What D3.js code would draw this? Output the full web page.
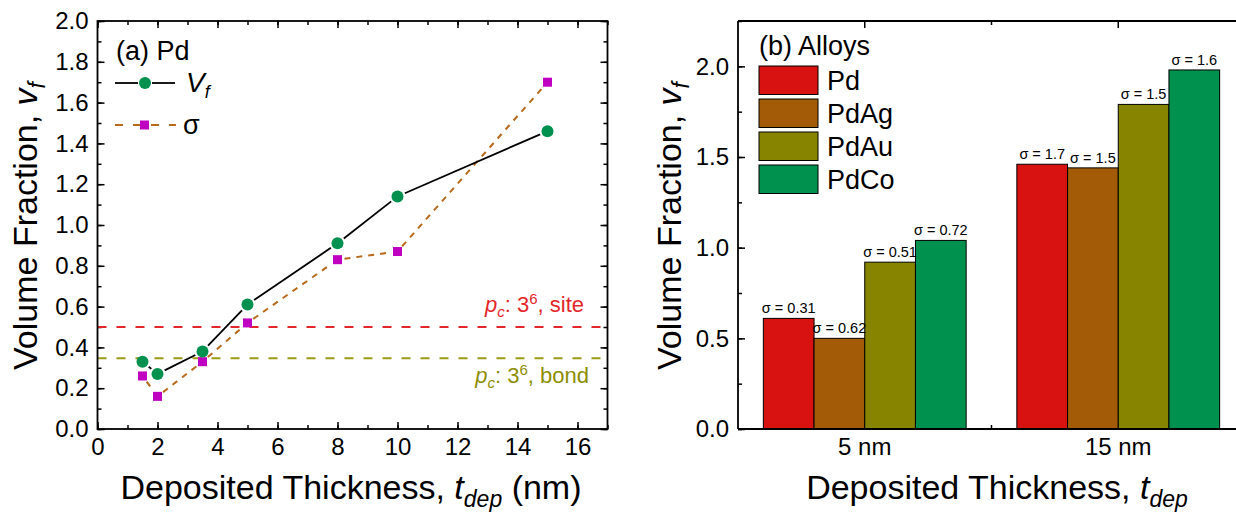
<!DOCTYPE html>
<html>
<head>
<meta charset="utf-8">
<script src="https://cdn.jsdelivr.net/npm/d3@7/dist/d3.min.js"></script>
<style>
  body { margin: 0; background: #fff; }
  svg { display: block; font-family: "Liberation Sans", Arial, sans-serif; }
</style>
</head>
<body>
<div class="chart"></div>
<script>
// ---- data ----
var thickness = [1.5, 2, 3.5, 5, 8, 10, 15];
var vfPd = [0.33, 0.27, 0.38, 0.61, 0.91, 1.14, 1.46];
var sigmaPd = [0.26, 0.16, 0.33, 0.52, 0.83, 0.87, 1.70];
var pcSite = 0.5;
var pcBond = 0.347;
var xTicksA = [0, 2, 4, 6, 8, 10, 12, 14, 16];
var yTicksA = [0, 0.2, 0.4, 0.6, 0.8, 1.0, 1.2, 1.4, 1.6, 1.8, 2.0];

var groups = ['5 nm', '15 nm'];
var alloys = ['Pd', 'PdAg', 'PdAu', 'PdCo'];
var vf5nm = [0.61, 0.50, 0.92, 1.04];
var vf15nm = [1.46, 1.44, 1.79, 1.98];
var sigma5nm = ['0.31', '0.62', '0.51', '0.72'];
var sigma15nm = ['1.7', '1.5', '1.5', '1.6'];
var yTicksB = [0, 0.5, 1.0, 1.5, 2.0];
var alloyColors = ['#d81111', '#a35b08', '#878500', '#00914f'];

var W = 1236, H = 513;
var svg = d3.select('.chart').append('svg').attr('width', W).attr('height', H);

// ================= (a) Pd =================
var xA = d3.scaleLinear().domain([0, 17]).range([97.5, 607.5]);
var yA = d3.scaleLinear().domain([0, 2]).range([429, 21]);
var gA = svg.append('g');

function tickAxis(g, axis, y0, x0) {
    var a = g.append('g').attr('transform', 'translate(' + (x0 || 0) + ',' + (y0 || 0) + ')').call(axis);
    a.select('.domain').remove();
    a.selectAll('line').attr('stroke', '#000').attr('stroke-width', 1.5);
    a.selectAll('text').attr('font-size', 24).attr('fill', '#000').attr('font-family', null);
    return a;
}
var minorXA = d3.range(0, 18, 1);
var minorYA = d3.range(0, 2.01, 0.1);

tickAxis(gA, d3.axisBottom(xA).tickValues(minorXA).tickSize(-4).tickFormat(''), 429);
tickAxis(gA, d3.axisBottom(xA).tickValues(xTicksA).tickSize(-7).tickPadding(9).tickFormat(d3.format('d')), 429);
tickAxis(gA, d3.axisTop(xA).tickValues(minorXA).tickSize(-4).tickFormat(''), 21);
tickAxis(gA, d3.axisTop(xA).tickValues(xTicksA).tickSize(-7).tickFormat(''), 21);
tickAxis(gA, d3.axisLeft(yA).tickValues(minorYA).tickSize(-4).tickFormat(''), 0, 97.5);
tickAxis(gA, d3.axisLeft(yA).tickValues(yTicksA).tickSize(-7).tickPadding(9).tickFormat(d3.format('.1f')), 0, 97.5);
tickAxis(gA, d3.axisRight(yA).tickValues(minorYA).tickSize(-4).tickFormat(''), 0, 607.5);
tickAxis(gA, d3.axisRight(yA).tickValues(yTicksA).tickSize(-7).tickFormat(''), 0, 607.5);

// threshold lines
gA.append('line').attr('x1', xA(0)).attr('x2', xA(17)).attr('y1', yA(pcSite)).attr('y2', yA(pcSite))
    .attr('stroke', '#e3262b').attr('stroke-width', 2).attr('stroke-dasharray', '9,10');
gA.append('line').attr('x1', xA(0)).attr('x2', xA(17)).attr('y1', yA(pcBond)).attr('y2', yA(pcBond))
    .attr('stroke', '#9c9c14').attr('stroke-width', 2).attr('stroke-dasharray', '9,10');

function pcLabel(x, y, word, color) {
    var t = gA.append('text').attr('x', x).attr('y', y).attr('text-anchor', 'end')
        .attr('font-size', 22).attr('fill', color);
    t.append('tspan').attr('font-style', 'italic').text('p');
    t.append('tspan').attr('font-style', 'italic').attr('font-size', 15).attr('dy', 5).text('c');
    t.append('tspan').attr('dy', -5).text(': 3');
    t.append('tspan').attr('font-size', 15).attr('dy', -8).text('6');
    t.append('tspan').attr('dy', 8).text(', ' + word);
}
pcLabel(584, 312, 'site', '#e3262b');
pcLabel(589, 383, 'bond', '#8e8e00');

// lines between markers, cut short near each marker
function gapped(xs, ys, gap) {
    var segs = [];
    for (var i = 0; i < xs.length - 1; i++) {
        var x1 = xA(xs[i]), y1 = yA(ys[i]), x2 = xA(xs[i + 1]), y2 = yA(ys[i + 1]);
        var len = Math.hypot(x2 - x1, y2 - y1);
        if (len <= 2 * gap) continue;
        var ux = (x2 - x1) / len, uy = (y2 - y1) / len;
        segs.push([x1 + ux * gap, y1 + uy * gap, x2 - ux * gap, y2 - uy * gap]);
    }
    return segs;
}
gA.selectAll('.sigline').data(gapped(thickness, sigmaPd, 7)).enter().append('line')
    .attr('x1', function(d) { return d[0]; }).attr('y1', function(d) { return d[1]; })
    .attr('x2', function(d) { return d[2]; }).attr('y2', function(d) { return d[3]; })
    .attr('stroke', '#b8691c').attr('stroke-width', 2).attr('stroke-dasharray', '6,6');
gA.selectAll('.vfline').data(gapped(thickness, vfPd, 8)).enter().append('line')
    .attr('x1', function(d) { return d[0]; }).attr('y1', function(d) { return d[1]; })
    .attr('x2', function(d) { return d[2]; }).attr('y2', function(d) { return d[3]; })
    .attr('stroke', '#000').attr('stroke-width', 1.8);

gA.selectAll('.sq').data(sigmaPd).enter().append('rect')
    .attr('x', function(d, i) { return xA(thickness[i]) - 4.5; })
    .attr('y', function(d) { return yA(d) - 4.5; })
    .attr('width', 9).attr('height', 9).attr('fill', '#c000c0');
gA.selectAll('.dot').data(vfPd).enter().append('circle')
    .attr('cx', function(d, i) { return xA(thickness[i]); })
    .attr('cy', function(d) { return yA(d); })
    .attr('r', 6).attr('fill', '#00914f');

gA.append('rect').attr('x', 97.5).attr('y', 21).attr('width', 510).attr('height', 408)
    .attr('fill', 'none').attr('stroke', '#000').attr('stroke-width', 1.8);

// legend (a)
gA.append('text').attr('x', 116).attr('y', 60).attr('font-size', 27).text('(a) Pd');
gA.append('line').attr('x1', 115).attr('x2', 138).attr('y1', 83).attr('y2', 83).attr('stroke', '#000').attr('stroke-width', 1.8);
gA.append('line').attr('x1', 152).attr('x2', 175).attr('y1', 83).attr('y2', 83).attr('stroke', '#000').attr('stroke-width', 1.8);
gA.append('circle').attr('cx', 145).attr('cy', 83).attr('r', 6).attr('fill', '#00914f');
var lv = gA.append('text').attr('x', 186).attr('y', 92).attr('font-size', 28).attr('font-style', 'italic');
lv.append('tspan').text('V');
lv.append('tspan').attr('font-size', 18).attr('dy', 6).text('f');
gA.append('line').attr('x1', 115).attr('x2', 176).attr('y1', 125).attr('y2', 125)
    .attr('stroke', '#b8691c').attr('stroke-width', 2).attr('stroke-dasharray', '8,10');
gA.append('rect').attr('x', 140).attr('y', 120.5).attr('width', 9).attr('height', 9).attr('fill', '#c000c0');
gA.append('text').attr('x', 183).attr('y', 134).attr('font-size', 27).text('σ');

// axis titles (a)
var ytA = gA.append('text').attr('transform', 'translate(37,226) rotate(-90)')
    .attr('text-anchor', 'middle').attr('font-size', 34);
ytA.append('tspan').text('Volume Fraction, ');
ytA.append('tspan').attr('font-style', 'italic').text('v');
ytA.append('tspan').attr('font-style', 'italic').attr('font-size', 23).attr('dy', 8).text('f');
var xtA = gA.append('text').attr('x', 351).attr('y', 499).attr('text-anchor', 'middle').attr('font-size', 34);
xtA.append('tspan').text('Deposited Thickness, ');
xtA.append('tspan').attr('font-style', 'italic').text('t');
xtA.append('tspan').attr('font-style', 'italic').attr('font-size', 23).attr('dy', 8).text('dep');
xtA.append('tspan').attr('dy', -8).text(' (nm)');

// ================= (b) Alloys =================
var xB = d3.scaleBand().domain(groups).range([738, 1245]).paddingInner(0.2).paddingOuter(0.1);
var xSub = d3.scaleBand().domain(alloys).range([0, xB.bandwidth()]);
var yB = d3.scaleLinear().domain([0, 2.25]).range([429, 21]);
var gB = svg.append('g');
var minorYB = d3.range(0, 2.26, 0.25);
var mid = (xB(groups[0]) + xB(groups[1]) + xB.bandwidth()) / 2;

tickAxis(gB, d3.axisLeft(yB).tickValues(minorYB).tickSize(-4).tickFormat(''), 0, 738);
tickAxis(gB, d3.axisLeft(yB).tickValues(yTicksB).tickSize(-7).tickPadding(9).tickFormat(d3.format('.1f')), 0, 738);
tickAxis(gB, d3.axisBottom(xB).tickSize(-7).tickPadding(9), 429);
tickAxis(gB, d3.axisTop(xB).tickSize(-7).tickFormat(''), 21);
gB.append('line').attr('x1', mid).attr('x2', mid).attr('y1', 429).attr('y2', 425).attr('stroke', '#000').attr('stroke-width', 1.5);
gB.append('line').attr('x1', mid).attr('x2', mid).attr('y1', 21).attr('y2', 25).attr('stroke', '#000').attr('stroke-width', 1.5);

var barData = [];
groups.forEach(function(g, gi) {
    var vals = gi === 0 ? vf5nm : vf15nm;
    var sig = gi === 0 ? sigma5nm : sigma15nm;
    alloys.forEach(function(a, ai) {
        barData.push({ group: g, alloy: a, value: vals[ai], sigma: sig[ai], color: alloyColors[ai] });
    });
});

gB.selectAll('.bar').data(barData).enter().append('rect')
    .attr('x', function(d) { return xB(d.group) + xSub(d.alloy); })
    .attr('y', function(d) { return yB(d.value); })
    .attr('width', xSub.bandwidth())
    .attr('height', function(d) { return yB(0) - yB(d.value); })
    .attr('fill', function(d) { return d.color; })
    .attr('stroke', '#000').attr('stroke-width', 1);

gB.selectAll('.sig').data(barData).enter().append('text')
    .attr('x', function(d) { return xB(d.group) + xSub(d.alloy) + xSub.bandwidth() / 2; })
    .attr('y', function(d) { return yB(d.value) - 5; })
    .attr('text-anchor', 'middle').attr('font-size', 14.5)
    .text(function(d) { return 'σ = ' + d.sigma; });

gB.append('line').attr('x1', 738).attr('x2', 1245).attr('y1', 429).attr('y2', 429).attr('stroke', '#000').attr('stroke-width', 1.8);
gB.append('line').attr('x1', 738).attr('x2', 1245).attr('y1', 21).attr('y2', 21).attr('stroke', '#000').attr('stroke-width', 1.8);
gB.append('line').attr('x1', 738).attr('x2', 738).attr('y1', 21).attr('y2', 429).attr('stroke', '#000').attr('stroke-width', 1.8);

// legend (b)
gB.append('text').attr('x', 759).attr('y', 55).attr('font-size', 27).text('(b) Alloys');
alloys.forEach(function(a, i) {
    gB.append('rect').attr('x', 759).attr('y', 66 + i * 33).attr('width', 59).attr('height', 28.5)
        .attr('fill', alloyColors[i]).attr('stroke', '#000').attr('stroke-width', 1);
    gB.append('text').attr('x', 827).attr('y', 90 + i * 33).attr('font-size', 27).text(a);
});

// axis titles (b)
var ytB = gB.append('text').attr('transform', 'translate(681,226) rotate(-90)')
    .attr('text-anchor', 'middle').attr('font-size', 34);
ytB.append('tspan').text('Volume Fraction, ');
ytB.append('tspan').attr('font-style', 'italic').text('v');
ytB.append('tspan').attr('font-style', 'italic').attr('font-size', 23).attr('dy', 8).text('f');
var xtB = gB.append('text').attr('x', 997).attr('y', 499).attr('text-anchor', 'middle').attr('font-size', 34);
xtB.append('tspan').text('Deposited Thickness, ');
xtB.append('tspan').attr('font-style', 'italic').text('t');
xtB.append('tspan').attr('font-style', 'italic').attr('font-size', 23).attr('dy', 8).text('dep');
</script>
</body>
</html>
